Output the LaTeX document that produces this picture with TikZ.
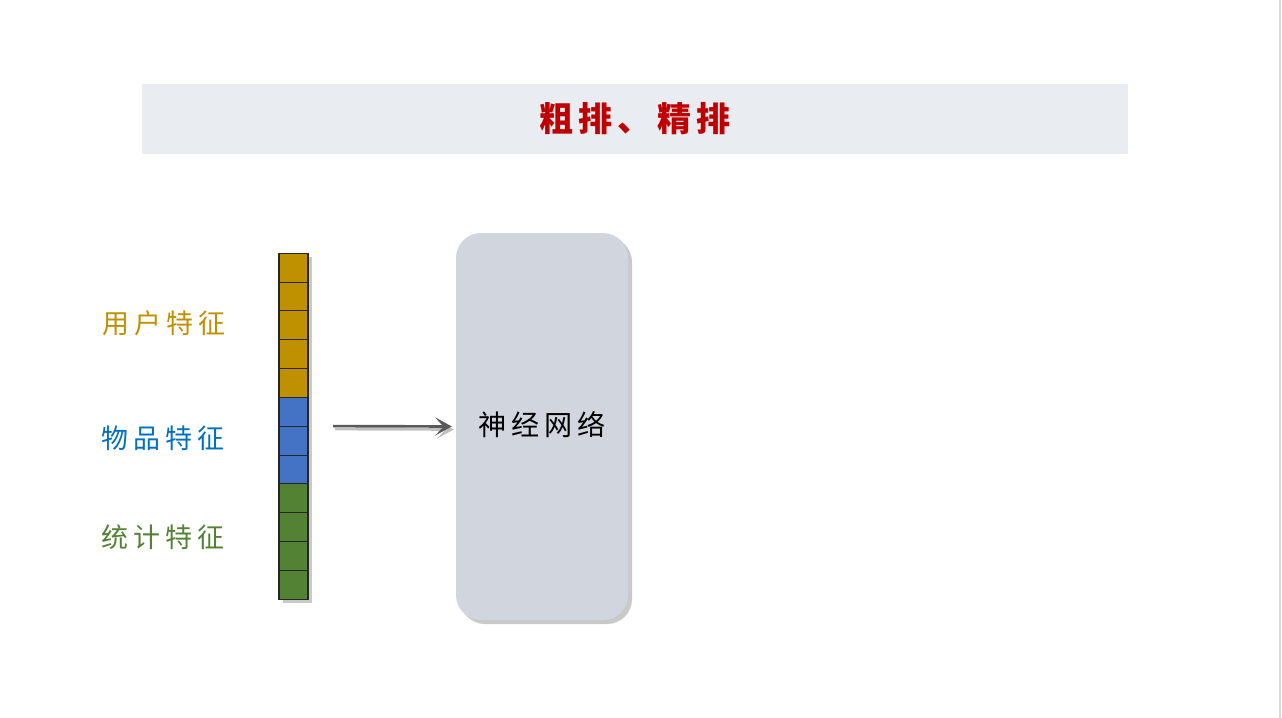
\documentclass[tikz,border=0pt]{standalone}
\usepackage{fontspec}
\usepackage{tikz}
\usetikzlibrary{shadows, arrows.meta}
\newfontfamily\cjk[LetterSpace=18]{Noto Sans CJK SC}
\newfontfamily\cjktitle[LetterSpace=15]{Noto Sans CJK SC}

\definecolor{featgold}{HTML}{BF9000}
\definecolor{featblue}{HTML}{4472C4}
\definecolor{feattext}{HTML}{0070C0}
\definecolor{featgreen}{HTML}{548235}
\definecolor{titlebar}{HTML}{E9ECF1}
\definecolor{titlered}{HTML}{C00000}
\definecolor{netfill}{HTML}{D0D5DE}

\tikzset{
  cell/.style={draw=black!85, line width=0.9pt, minimum width=8.7mm, minimum height=8.65mm, inner sep=0pt},
  featlabel/.style={font=\cjk\fontsize{23}{27}\selectfont},
  soft shadow/.style={drop shadow={shadow xshift=1.2mm, shadow yshift=-1.2mm, opacity=0.35, fill=black!60}},
  feedarrow/.style={-{Stealth[length=5mm, width=5.5mm, inset=2.6mm]}, line width=0.8mm, shorten <=7.5mm, shorten >=1.2mm}
}

\begin{document}
\begin{tikzpicture}[x=0.3mm, y=-0.3mm]

% canvas
\useasboundingbox (0,0) rectangle (1282,718);
\fill[white] (0,0) rectangle (1282,718);
\draw[black!15, line width=0.6mm] (1280,0) -- (1280,718);

% Title bar
\node[fill=titlebar, minimum width=295.8mm, minimum height=21mm, inner sep=0pt] (title) at (635,119) {};
\node[titlered, font=\cjktitle\bfseries\fontsize{29}{34}\selectfont] at (title.center) {粗排、精排};

% Feature vector
\node[minimum width=8.7mm, minimum height=103.8mm, inner sep=0pt, fill=white, soft shadow] (vec) at (293.5,426) {};
\foreach \i in {1,...,12} {
  \ifnum\i<6 \def\cellcolor{featgold}\else
    \ifnum\i<9 \def\cellcolor{featblue}\else \def\cellcolor{featgreen}\fi\fi
  \node[cell, fill=\cellcolor, anchor=north] (c\i) at ([yshift=-(\i-1)*8.65mm]vec.north) {};
}

% Feature labels
\node[featlabel, featgold] (user) at (164,323) {用户特征};
\node[featlabel, feattext] (item) at (163,438) {物品特征};
\node[featlabel, featgreen] (stat) at (163,537) {统计特征};

% Neural network
\node[fill=netfill, rounded corners=7.5mm, minimum width=51.6mm, minimum height=116.1mm,
      inner sep=0pt, soft shadow] (net) at (542,426.5) {};
\node[font=\cjk\fontsize{24}{28}\selectfont] (nettext) at (542,425) {神经网络};

% Input arrow
\draw[feedarrow, black!25, transform canvas={xshift=0.6mm, yshift=-0.9mm}] (vec.east) -- (net.west);
\draw[feedarrow, black!65] (vec.east) -- (net.west);

\end{tikzpicture}
\end{document}
